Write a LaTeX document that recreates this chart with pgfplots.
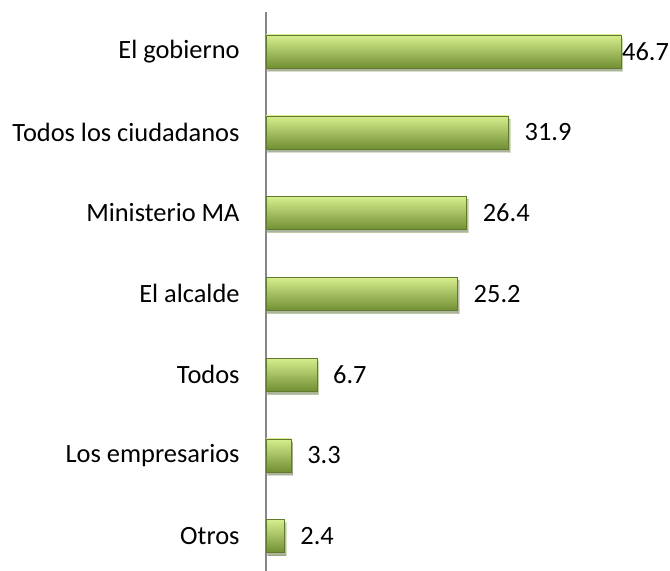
\documentclass[border=0pt]{standalone}
\usepackage{pgfplots}
\pgfplotsset{compat=1.18}
\usetikzlibrary{shadows}
\usepackage{fontspec}
\setmainfont{Carlito}
\definecolor{gtop}{HTML}{D6EE8E}
\definecolor{gmid}{HTML}{A6C85A}
\definecolor{gbot}{HTML}{728F34}
\definecolor{axgray}{HTML}{868686}
\pgfplotstableread{
x y lab
2.4 0 2.4
3.3 1 3.3
6.7 2 6.7
25.2 3 25.2
26.4 4 26.4
31.9 5 31.9
46.7 6 46.7
}\datatab
\begin{document}
\fontsize{26.5}{31}\selectfont
\begin{tikzpicture}[x=1bp,y=1bp]
\path[use as bounding box] (0,0) rectangle (670,571);
\begin{axis}[
  at={(266bp,0bp)}, anchor=south west,
  scale only axis,
  width=380bp, height=559bp,
  xmin=0, xmax=50,
  ymin=-0.433, ymax=6.489,
  axis x line=none,
  axis y line=left,
  axis line style={draw=axgray, line width=1.3bp, -},
  ytick={0,1,2,3,4,5,6},
  yticklabels={Otros,Los empresarios,Todos,El alcalde,Ministerio MA,Todos los ciudadanos,El gobierno},
  ytick style={draw=none},
  yticklabel style={inner sep=0pt, anchor=east, xshift=-22bp, font=\fontsize{26.5}{31}\selectfont},
  xbar, bar width=33bp, bar shift=0pt,
  nodes near coords,
  point meta=explicit symbolic,
  nodes near coords style={anchor=west, inner sep=0pt, xshift=16bp, font=\fontsize{26.5}{31}\selectfont, text=black},
  gbar/.style={draw=gbot!85!black, line width=0.4bp, shade, top color=gtop, middle color=gmid, bottom color=gbot,
     drop shadow={shadow xshift=1.5bp, shadow yshift=-3bp, opacity=0.25, fill=black}},
]
\addplot[gbar] table[meta=lab, skip coords between index={1}{7}] {\datatab};
\addplot[gbar] table[meta=lab, skip coords between index={0}{1}, skip coords between index={2}{7}] {\datatab};
\addplot[gbar] table[meta=lab, skip coords between index={0}{2}, skip coords between index={3}{7}] {\datatab};
\addplot[gbar] table[meta=lab, skip coords between index={0}{3}, skip coords between index={4}{7}] {\datatab};
\addplot[gbar] table[meta=lab, skip coords between index={0}{4}, skip coords between index={5}{7}] {\datatab};
\addplot[gbar] table[meta=lab, skip coords between index={0}{5}, skip coords between index={6}{7}] {\datatab};
\addplot[gbar, nodes near coords style={xshift=-15bp}] table[meta=lab, skip coords between index={0}{6}] {\datatab};
\end{axis}
\end{tikzpicture}
\end{document}
